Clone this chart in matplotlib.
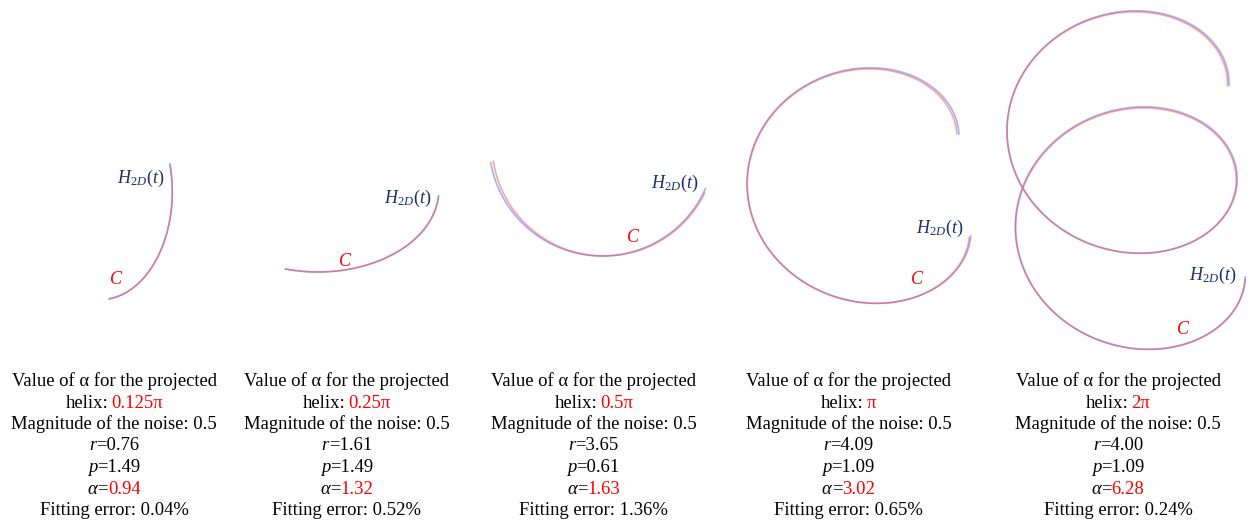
import numpy as np
import matplotlib
matplotlib.use("Agg")
import matplotlib.pyplot as plt

SERIF = ["Liberation Serif", "DejaVu Serif"]
plt.rcParams["mathtext.fontset"] = "custom"
plt.rcParams["mathtext.rm"] = "Liberation Serif"
plt.rcParams["mathtext.it"] = "Liberation Serif:italic"

# ---- values shown under each panel ----
alpha_true = ["0.125\u03c0", "0.25\u03c0", "0.5\u03c0", "\u03c0", "2\u03c0"]
noise_mag = [0.5, 0.5, 0.5, 0.5, 0.5]
r_fit = [0.76, 1.61, 3.65, 4.09, 4.00]
p_fit = [1.49, 1.49, 0.61, 1.09, 1.09]
alpha_fit = [0.94, 1.32, 1.63, 3.02, 6.28]
fit_error = [0.04, 0.52, 1.36, 0.65, 0.24]

# ---- projected helix arcs (canvas pixels) ----
# each entry: centre x, centre y, radius x, radius y, drift x / rad, drift y / rad, t start, t end
helix_2d = [
    (100.3, 191.7, 72.0, 108.0, 0.0, 0.0, -1.46, 0.27),
    (318.0, 190.0, 121.0, 82.0, 0.0, 0.0, -1.85, -0.06),
    (602.0, 143.0, 113.0, 113.0, 0.0, 0.0, 3.31, 5.875),
    (850.0, 138.4, 109.0, 93.0, 1.9, 15.0, 0.045, 6.25),
    (1116.0, 84.0, 113.0, 96.0, 1.3, 15.28, -0.03, 4 * np.pi),
]
fitted_c = [
    (100.8, 192.0, 71.5, 107.5, 0.0, 0.0, -1.46, 0.26),
    (318.0, 190.5, 120.5, 81.5, 0.0, 0.0, -1.85, -0.07),
    (604.0, 144.0, 112.0, 112.0, 0.0, 0.0, 3.29, 5.84),
    (849.0, 139.0, 108.0, 92.5, 2.0, 15.0, 0.06, 6.24),
    (1115.0, 84.5, 112.5, 95.5, 1.4, 15.3, -0.02, 4 * np.pi - 0.02),
]

# label anchors
h_label_xy = [(141, 178), (408, 198), (675, 183), (940, 228), (1213, 275)]
c_label_xy = [(116, 279), (345.5, 262), (632.5, 238), (917, 279), (1183, 329)]
text_center_x = [114, 347, 593.5, 848.5, 1118]
text_top_y = 381.5
line_step = 21.5

BLUE = "#4a64f5"
RED = "#f54a4a"
NAVY = "#1c2f6e"
TXT_RED = "#ff0000"

fig = plt.figure(figsize=(12.5, 5.22), dpi=100)
ax = fig.add_axes([0, 0, 1, 1])
ax.set_xlim(0, 1250)
ax.set_ylim(522, 0)
ax.axis("off")


def helix_curve(cx, cy, rx, ry, dx, dy, t0, t1):
    t = np.linspace(t0, t1, 600)
    x = cx + rx * np.cos(t) + dx * t
    y = cy - ry * np.sin(t) + dy * t
    return x, y


for h, c in zip(helix_2d, fitted_c):
    xh, yh = helix_curve(*h)
    xc, yc = helix_curve(*c)
    ax.plot(xh, yh, color=BLUE, lw=1.2, alpha=0.5, solid_capstyle="butt")
    ax.plot(xc, yc, color=RED, lw=1.2, alpha=0.5, solid_capstyle="butt")

for (hx, hy), (cx, cy) in zip(h_label_xy, c_label_xy):
    ax.text(hx, hy, r"$H_{\mathit{2D}}(t)$", color=NAVY, fontsize=13,
            ha="center", va="center")
    ax.text(cx, cy, "C", color=TXT_RED, fontsize=13, fontstyle="italic",
            family=SERIF, ha="center", va="center")

renderer = fig.canvas.get_renderer()
FS = 13.4
SPACE = 0.25 * FS * 100 / 72  # width of a word space in pixels


def rich_line(xc, y, pieces):
    texts, gaps = [], []
    for s, color, style, gap in pieces:
        t = ax.text(0, y, s, color=color, fontstyle=style, fontsize=FS,
                    family=SERIF, ha="left", va="center")
        texts.append(t)
        gaps.append(gap * SPACE)
    widths = [t.get_window_extent(renderer).width for t in texts]
    x = xc - (sum(widths) + sum(gaps)) / 2
    for t, w, g in zip(texts, widths, gaps):
        x += g
        t.set_x(x)
        x += w


for i in range(5):
    xc = text_center_x[i]
    lines = [
        [("Value of \u03b1 for the projected", "black", "normal", 0)],
        [("helix:", "black", "normal", 0), (alpha_true[i], TXT_RED, "normal", 0.6)],
        [(f"Magnitude of the noise: {noise_mag[i]}", "black", "normal", 0)],
        [("r", "black", "italic", 0), (f"={r_fit[i]:.2f}", "black", "normal", 0)],
        [("p", "black", "italic", 0), (f"={p_fit[i]:.2f}", "black", "normal", 0)],
        [("\u03b1", "black", "italic", 0), ("=", "black", "normal", 0),
         (f"{alpha_fit[i]:.2f}", TXT_RED, "normal", 0)],
        [(f"Fitting error: {fit_error[i]:.2f}%", "black", "normal", 0)],
    ]
    for k, pieces in enumerate(lines):
        rich_line(xc, text_top_y + k * line_step, pieces)

fig.savefig("out.png", dpi=100, facecolor="white")
